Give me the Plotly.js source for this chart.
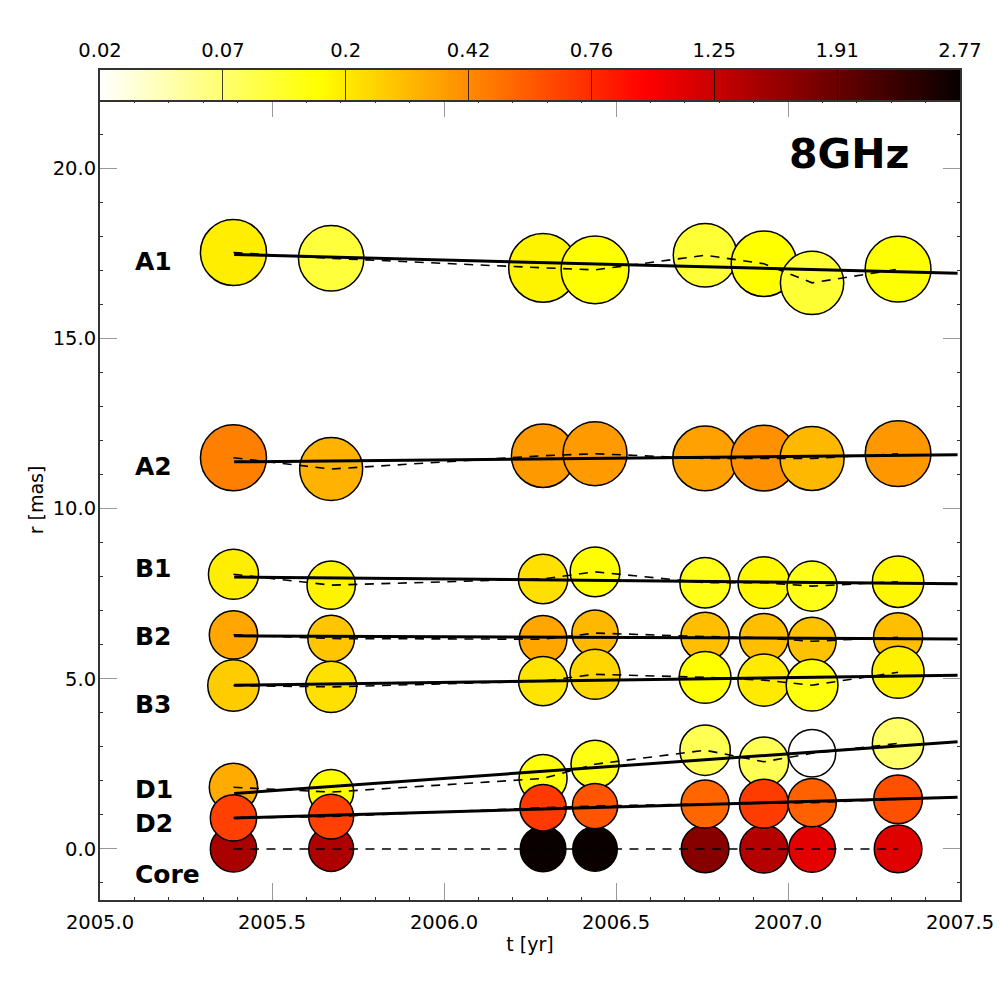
<!DOCTYPE html>
<html>
<head>
<meta charset="utf-8">
<script src="https://cdn.plot.ly/plotly-3.0.1.min.js"></script>
<style>body { margin: 0; background: #fff; }</style>
</head>
<body>
<div id="myDiv" style="width:1000px;height:1000px;"></div>
<script>
// Observing epochs [yr]
var epochs = [2005.388, 2005.672, 2006.288, 2006.439, 2006.759, 2006.930, 2007.070, 2007.320];

// Distance from the core [mas]
var coreR = [0, 0, 0, 0, 0, 0, 0, 0];
var a1R = [17.52, 17.35, 17.07, 17.01, 17.44, 17.19, 16.63, 17.03];
var a2R = [11.49, 11.16, 11.55, 11.61, 11.47, 11.48, 11.47, 11.61];
var b1R = [8.07, 7.75, 7.93, 8.14, 7.82, 7.82, 7.72, 7.85];
var b2R = [6.29, 6.18, 6.16, 6.34, 6.24, 6.20, 6.10, 6.22];
var b3R = [4.80, 4.76, 4.93, 5.13, 5.04, 4.96, 4.81, 5.19];
var d1R = [1.81, 1.67, 2.07, 2.49, 2.90, 2.56, 2.81, 3.10];
var d2R = [0.91, 0.95, 1.21, 1.26, 1.32, 1.33, 1.36, 1.46];

// Component diameter [mas]
var coreSize = [1.36, 1.32, 1.34, 1.31, 1.40, 1.41, 1.37, 1.40];
var a1Size = [1.94, 1.92, 2.02, 1.99, 1.87, 1.92, 1.86, 1.93];
var a2Size = [1.94, 1.85, 1.86, 1.88, 1.90, 1.93, 1.88, 1.93];
var b1Size = [1.47, 1.42, 1.45, 1.46, 1.48, 1.52, 1.47, 1.51];
var b2Size = [1.42, 1.37, 1.40, 1.36, 1.42, 1.43, 1.41, 1.44];
var b3Size = [1.51, 1.50, 1.44, 1.47, 1.52, 1.53, 1.52, 1.53];
var d1Size = [1.42, 1.32, 1.41, 1.41, 1.48, 1.45, 1.39, 1.51];
var d2Size = [1.36, 1.32, 1.36, 1.33, 1.41, 1.44, 1.42, 1.43];

// Flux as a position along the colour bar (0 = left end, 1 = right end)
var coreFlux = [0.762, 0.755, 0.995, 0.995, 0.813, 0.745, 0.673, 0.682];
var a1Flux = [0.28, 0.195, 0.27, 0.254, 0.20, 0.254, 0.20, 0.25];
var a2Flux = [0.445, 0.368, 0.406, 0.403, 0.395, 0.418, 0.36, 0.41];
var b1Flux = [0.28, 0.27, 0.30, 0.255, 0.23, 0.265, 0.23, 0.265];
var b2Flux = [0.385, 0.34, 0.385, 0.36, 0.35, 0.35, 0.345, 0.35];
var b3Flux = [0.33, 0.30, 0.295, 0.315, 0.254, 0.285, 0.24, 0.275];
var d1Flux = [0.38, 0.255, 0.24, 0.235, 0.17, 0.17, 0, 0.15];
var d2Flux = [0.54, 0.54, 0.55, 0.51, 0.483, 0.545, 0.49, 0.515];

// Linear fits, start and end of each line
var fitT = [2005.39, 2007.493];
var a1Fit = [17.46, 16.91];
var a2Fit = [11.37, 11.58];
var b1Fit = [7.99, 7.79];
var b2Fit = [6.26, 6.17];
var b3Fit = [4.81, 5.10];
var d1Fit = [1.63, 3.15];
var d2Fit = [0.91, 1.52];

// Component names next to the tracks
var labelNames = ['A1', 'A2', 'B1', 'B2', 'B3', 'D1', 'D2', 'Core'];
var labelT = [2005.096, 2005.096, 2005.096, 2005.096, 2005.096, 2005.096, 2005.096, 2005.096];
var labelR = [17.26, 11.24, 8.24, 6.25, 4.25, 1.76, 0.76, -0.74];

// Colour bar tick labels
var barLabels = ['0.02', '0.07', '0.2', '0.42', '0.76', '1.25', '1.91', '2.77'];
var barTicks = [0, 1 / 7, 2 / 7, 3 / 7, 4 / 7, 5 / 7, 6 / 7, 1];

var fontFamily = '"DejaVu Sans", sans-serif';
var pxPerMas = 34.05;
var hotReversed = [[0, '#ffffff'], [0.254, '#ffff00'], [0.635, '#ff0000'], [1, 'rgb(8,0,0)']];

var data = [];

// Circles with the dashed track on top, then the fit
function addComponent(r, size, flux, fit) {
  data.push({
    x: epochs,
    y: r,
    type: 'scatter',
    mode: 'markers',
    hoverinfo: 'skip',
    marker: {
      size: size.map(function(d) { return d * pxPerMas; }),
      color: flux,
      colorscale: hotReversed,
      cmin: 0,
      cmax: 1,
      showscale: false,
      opacity: 1,
      line: { color: '#000', width: 1.5 }
    }
  });
  data.push({
    x: epochs,
    y: r,
    type: 'scatter',
    mode: 'lines',
    hoverinfo: 'skip',
    line: { color: '#000', width: 1.6, dash: '9px,7.5px' }
  });
  if (fit) {
    data.push({
      x: fitT,
      y: fit,
      type: 'scatter',
      mode: 'lines',
      hoverinfo: 'skip',
      line: { color: '#000', width: 3 }
    });
  }
}

addComponent(coreR, coreSize, coreFlux, null);
addComponent(a1R, a1Size, a1Flux, a1Fit);
addComponent(a2R, a2Size, a2Flux, a2Fit);
addComponent(b1R, b1Size, b1Flux, b1Fit);
addComponent(b2R, b2Size, b2Flux, b2Fit);
addComponent(b3R, b3Size, b3Flux, b3Fit);
addComponent(d1R, d1Size, d1Flux, d1Fit);
addComponent(d2R, d2Size, d2Flux, d2Fit);

// Colour bar as a one row heatmap
var barX = [];
var barZ = [];
for (var i = 0; i < 430; i++) {
  barX.push((i + 0.5) / 430);
  barZ.push((i + 0.5) / 430);
}
data.push({
  x: barX,
  y: [0],
  z: [barZ],
  type: 'heatmap',
  xaxis: 'x2',
  yaxis: 'y2',
  colorscale: hotReversed,
  zmin: 0,
  zmax: 1,
  showscale: false,
  hoverinfo: 'skip'
});

var annotations = labelNames.map(function(name, k) {
  return {
    x: labelT[k],
    y: labelR[k],
    text: name,
    showarrow: false,
    xanchor: 'left',
    yanchor: 'middle',
    font: { family: fontFamily, size: 25, color: '#000', weight: 'bold' }
  };
});
annotations.push({
  x: 2007.176,
  y: 20.4,
  text: '8GHz',
  showarrow: false,
  xanchor: 'center',
  yanchor: 'middle',
  font: { family: fontFamily, size: 41, color: '#000', weight: 'bold' }
});

var layout = {
  width: 1000,
  height: 1000,
  showlegend: false,
  paper_bgcolor: '#fff',
  plot_bgcolor: '#fff',
  font: { family: fontFamily, size: 19.5, color: '#000' },
  margin: { l: 100, r: 40, t: 70, b: 100, pad: 0 },
  xaxis: {
    domain: [0, 1],
    range: [2005, 2007.5],
    dtick: 0.5,
    tick0: 2005,
    tickformat: '.1f',
    ticks: 'inside',
    ticklen: 17,
    tickwidth: 1,
    tickcolor: '#999',
    ticklabelstandoff: 4,
    showgrid: false,
    zeroline: false,
    showline: true,
    linecolor: '#333',
    linewidth: 2,
    mirror: 'ticks',
    minor: { dtick: 0.1, ticks: 'inside', ticklen: 3, tickwidth: 1, tickcolor: '#333', showgrid: false },
    title: { text: 't [yr]', font: { size: 19 }, standoff: 4 }
  },
  yaxis: {
    domain: [0, 800 / 830],
    range: [-1.5, 22],
    dtick: 5,
    tick0: 0,
    tickformat: '.1f',
    ticks: 'inside',
    ticklen: 17,
    tickwidth: 1,
    tickcolor: '#999',
    ticklabelstandoff: -2,
    showgrid: false,
    zeroline: false,
    showline: true,
    linecolor: '#333',
    linewidth: 2,
    mirror: 'ticks',
    minor: { dtick: 1, ticks: 'inside', ticklen: 3, tickwidth: 1, tickcolor: '#333', showgrid: false },
    title: { text: 'r [mas]', font: { size: 19 }, standoff: 4 }
  },
  xaxis2: {
    domain: [0, 1],
    anchor: 'y2',
    side: 'top',
    range: [0, 1],
    tickvals: barTicks,
    ticktext: barLabels,
    ticks: 'inside',
    ticklen: 30,
    tickwidth: 1,
    tickcolor: 'rgba(0,0,0,0.75)',
    ticklabelstandoff: 3,
    showgrid: false,
    zeroline: false,
    showline: true,
    linecolor: '#333',
    linewidth: 2,
    mirror: true
  },
  yaxis2: {
    domain: [800 / 830, 1],
    anchor: 'x2',
    range: [-0.5, 0.5],
    showticklabels: false,
    ticks: '',
    showgrid: false,
    zeroline: false,
    showline: true,
    linecolor: '#333',
    linewidth: 2,
    mirror: true
  },
  annotations: annotations
};

Plotly.newPlot('myDiv', data, layout, { displayModeBar: false, staticPlot: true });
</script>
</body>
</html>
